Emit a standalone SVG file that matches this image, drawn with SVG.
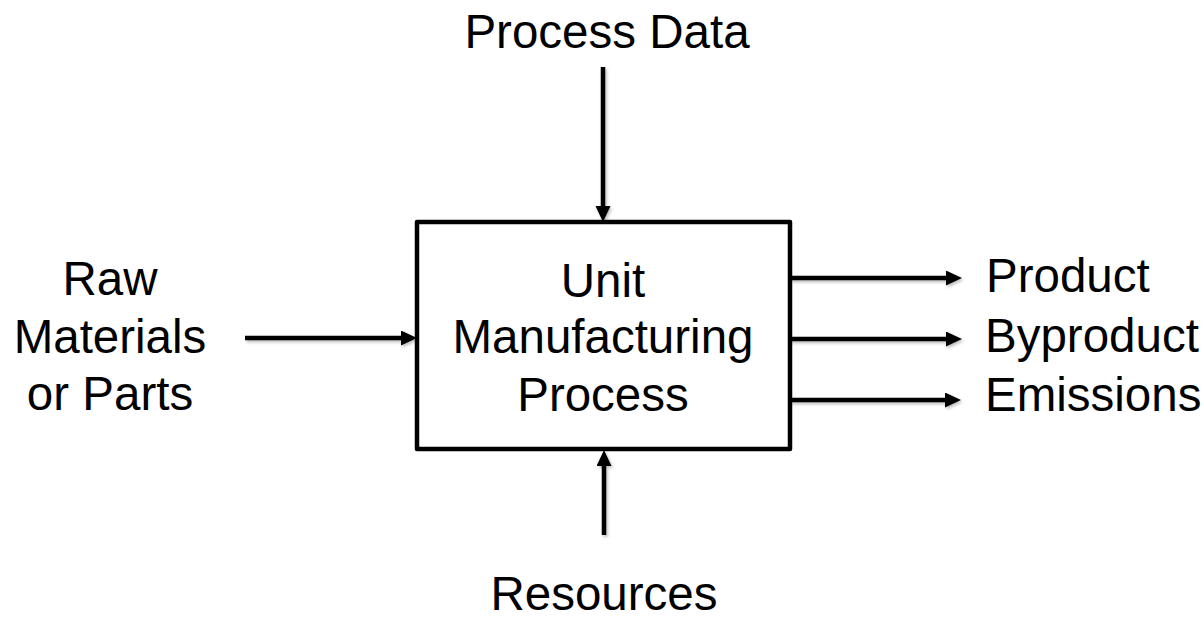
<svg xmlns="http://www.w3.org/2000/svg" width="1204" height="623" viewBox="0 0 1204 623">
  <style>
    .lbl { font-family: "Liberation Sans", Arial, sans-serif; font-size: 47.5px; fill: #000; }
    .mid { text-anchor: middle; }
    .box { fill: #fff; stroke: #000; stroke-width: 4.5; stroke-linejoin: round; }
    .flow { stroke: #000; stroke-width: 4.5; fill: none; marker-end: url(#head); }
  </style>
  <defs>
    <marker id="head" markerUnits="userSpaceOnUse" markerWidth="17" markerHeight="16" refX="1" refY="7.5" orient="auto">
      <path d="M0,0 L16,7.5 L0,15 z" fill="#000"/>
    </marker>
    <filter id="soft" x="-10%" y="-50%" width="120%" height="200%">
      <feDropShadow dx="1.5" dy="2" stdDeviation="1.5" flood-color="#000" flood-opacity="0.25"/>
    </filter>
  </defs>

  <!-- connectors -->
  <g id="connectors" filter="url(#soft)">
    <line class="flow" x1="603" y1="67" x2="603" y2="207"/>
    <line class="flow" x1="604" y1="535" x2="604" y2="465"/>
    <line class="flow" x1="245" y1="338" x2="402" y2="338"/>
    <line class="flow" x1="790" y1="278" x2="947" y2="278"/>
    <line class="flow" x1="790" y1="339" x2="947" y2="339"/>
    <line class="flow" x1="790" y1="400" x2="946" y2="400"/>
  </g>

  <!-- central process -->
  <g id="unit-process">
    <rect class="box" x="417" y="222" width="373" height="227"/>
    <text class="lbl mid" x="603" y="297">Unit</text>
    <text class="lbl mid" x="603" y="353">Manufacturing</text>
    <text class="lbl mid" x="603" y="411">Process</text>
  </g>

  <g id="process-data">
    <text class="lbl mid" x="607" y="48">Process Data</text>
  </g>

  <g id="raw-materials">
    <text class="lbl mid" x="110" y="295">Raw</text>
    <text class="lbl mid" x="110" y="353">Materials</text>
    <text class="lbl mid" x="110" y="410">or Parts</text>
  </g>

  <g id="resources">
    <text class="lbl mid" x="604" y="610">Resources</text>
  </g>

  <g id="product">
    <text class="lbl" x="986" y="292">Product</text>
  </g>
  <g id="byproduct">
    <text class="lbl" x="985" y="352">Byproduct</text>
  </g>
  <g id="emissions">
    <text class="lbl" x="985" y="411">Emissions</text>
  </g>
</svg>
